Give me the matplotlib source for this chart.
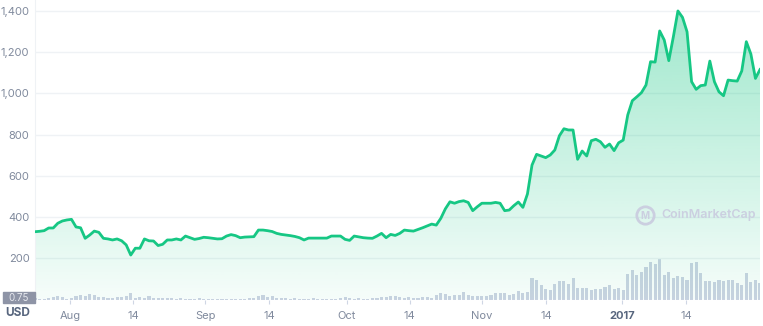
import numpy as np
import matplotlib
matplotlib.use("Agg")
import matplotlib.pyplot as plt
from matplotlib.patches import Rectangle

plt.rcParams['font.family'] = ['Inter', 'DejaVu Sans']

# price (USD), one value per period
price = [329, 331, 334, 347, 347, 370, 381, 386, 389, 352,
         348, 297, 313, 332, 326, 297, 294, 289, 294, 285,
         265, 216, 249, 249, 294, 285, 284, 262, 268, 289,
         289, 294, 289, 308, 300, 292, 296, 302, 300, 297,
         294, 295, 308, 315, 310, 300, 303, 304, 305, 337,
         337, 334, 330, 321, 316, 313, 310, 306, 300, 289,
         298, 298, 298, 298, 298, 308, 308, 308, 292, 287,
         308, 304, 300, 298, 297, 308, 321, 300, 316, 311,
         321, 337, 334, 332, 340, 348, 357, 366, 361, 394,
         440, 474, 467, 475, 479, 471, 431, 450, 467, 467,
         467, 471, 467, 431, 434, 455, 473, 447, 512, 652,
         704, 696, 688, 701, 725, 794, 828, 822, 822, 680,
         720, 696, 770, 777, 765, 738, 754, 722, 760, 773,
         895, 964, 983, 1003, 1040, 1153, 1151, 1302, 1258, 1158,
         1274, 1399, 1368, 1298, 1056, 1019, 1037, 1040, 1156, 1056,
         1007, 988, 1064, 1061, 1059, 1108, 1250, 1190, 1072, 1115]

# traded volume (relative units)
volume = [2, 1, 1, 2, 3, 4, 3, 1, 2, 4,
          5, 4, 6, 5, 3, 3, 2, 2, 3, 3,
          4, 7, 2, 3, 2, 4, 2, 2, 2, 2,
          2, 1, 2, 1, 1, 1, 2, 1, 1, 1,
          1, 1, 1, 1, 1, 1, 1, 2, 2, 4,
          5, 3, 4, 2, 2, 2, 1, 2, 1, 1,
          1, 2, 1, 1, 1, 1, 1, 2, 3, 2,
          1, 2, 1, 1, 2, 2, 3, 3, 4, 4,
          3, 2, 3, 2, 2, 3, 3, 2, 5, 7,
          6, 4, 5, 5, 8, 5, 4, 4, 4, 4,
          5, 7, 7, 7, 5, 6, 9, 7, 8, 22,
          20, 15, 11, 10, 16, 19, 19, 16, 22, 12,
          12, 12, 10, 11, 11, 13, 15, 11, 12, 10,
          26, 30, 25, 28, 33, 38, 36, 41, 25, 28,
          22, 24, 23, 20, 37, 38, 27, 19, 19, 18,
          20, 19, 20, 20, 17, 15, 27, 18, 20, 17]

tick_pos = [7.7, 21.5, 37.3, 51.3, 68.4, 82.2, 98.0, 112.1, 128.7, 142.8]
tick_labels = ['Aug', '14', 'Sep', '14', 'Oct', '14', 'Nov', '14', '2017', '14']
y_ticks = [200, 400, 600, 800, 1000, 1200, 1400]

green = '#16c784'
grey = '#808a9d'
dark = '#58667e'
mark = '#cbcfe0'

x = np.arange(len(price))
W, H = 763, 326
fig = plt.figure(figsize=(W / 100, H / 100), dpi=100)
ax = fig.add_axes([35 / W, (H - 299.6) / H, 725 / W, 299.6 / H])
ax.set_xlim(0, len(price) - 1)
ax.set_ylim(0, 1452)

# gradient fill under the line
poly = ax.fill_between(x, price, 0, color='none')
grad = np.linspace(0.42, 0.04, 256).reshape(-1, 1)
cols = np.zeros((256, 1, 4))
cols[..., :3] = matplotlib.colors.to_rgb(green)
cols[..., 3] = grad
img = ax.imshow(cols, extent=[0, len(price) - 1, 0, 1452], aspect='auto',
                origin='upper', zorder=1)
img.set_clip_path(poly.get_paths()[0], transform=ax.transData)

ax.plot(x, price, color=green, lw=2, zorder=4, solid_joinstyle='round')

ax.set_yticks(y_ticks)
ax.set_yticklabels([f'{v:,}' for v in y_ticks])
ax.grid(axis='y', color='#eff2f5', lw=1, zorder=0)
ax.set_axisbelow(True)
for s in ['top', 'right', 'bottom']:
    ax.spines[s].set_visible(False)
ax.spines['left'].set_color('#eff2f5')
ax.tick_params(axis='y', length=0, pad=4, labelsize=8, labelcolor=grey)
ax.set_xticks(tick_pos)
ax.set_xticklabels(tick_labels)
ax.tick_params(axis='x', length=3, width=0.8, color='#cfd6e4', pad=5,
               labelsize=8, labelcolor=grey)
for lab in ax.get_xticklabels():
    if lab.get_text() == '2017':
        lab.set_fontweight('bold')
        lab.set_color(dark)

# volume bars on a twin axis
ax2 = ax.twinx()
ax2.set_ylim(0, 299.6)
ax2.bar(x, volume, width=0.68, color='#cdd3e3', zorder=2)
ax2.set_axis_off()
ax.set_zorder(ax2.get_zorder() + 1)
ax.patch.set_visible(False)

# watermark
ax.plot([0.841], [0.282], transform=ax.transAxes, marker='o', ms=12.5,
        mfc='none', mec=mark, mew=2, zorder=3)
ax.text(0.841, 0.279, 'M', transform=ax.transAxes, ha='center', va='center',
        fontsize=7, fontweight='bold', color=mark, zorder=3)
ax.text(0.864, 0.282, 'CoinMarketCap', transform=ax.transAxes, ha='left',
        va='center', fontsize=9, fontweight='semibold', color=mark, zorder=3)

# bottom-left labels
fig.patches.append(Rectangle((3 / W, (H - 303) / H), 32 / W, 11 / H,
                             transform=fig.transFigure, color='#8e94a6'))
fig.text(19 / W, (H - 298) / H, '0.75', ha='center', va='center', fontsize=7,
         color='#e6e8ee')
fig.text(18 / W, (H - 313) / H, 'USD', ha='center', va='center', fontsize=8.5,
         fontweight='bold', color=dark)

fig.savefig('out.png', dpi=100)
